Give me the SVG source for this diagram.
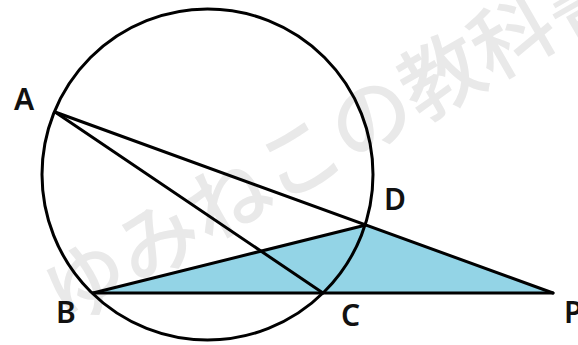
<svg xmlns="http://www.w3.org/2000/svg" width="578" height="345" viewBox="0 0 578 345">
  <style>
    .ln { stroke: #000; stroke-width: 3; fill: none; stroke-linecap: round; stroke-linejoin: round; }
    .lbl { font-family: "Noto Sans", "Liberation Sans", sans-serif; font-weight: 600; font-size: 30px; fill: #111; }
    .wm { font-family: "Noto Sans CJK JP", "Noto Sans", sans-serif; font-size: 82px; font-weight: 500; fill: #e9e9e9; }
  </style>
  <rect width="578" height="345" fill="#fff"/>
  <g id="watermark">
    <text class="wm" x="332" y="133" text-anchor="middle" dominant-baseline="central" transform="rotate(-30 332 133)">ゆみねこの教科書</text>
  </g>
  <g id="shaded">
    <polygon points="93,293 366,225 553,293" fill="#93d4e6"/>
  </g>
  <g id="circle">
    <circle class="ln" cx="207.5" cy="174.5" r="165.5"/>
  </g>
  <g id="connectors">
    <line class="ln" x1="55" y1="112" x2="553" y2="293"/>
    <line class="ln" x1="55" y1="112" x2="323" y2="293"/>
    <line class="ln" x1="93" y1="293" x2="366" y2="225"/>
    <line class="ln" x1="93" y1="293" x2="553" y2="293"/>
  </g>
  <g id="labels">
    <g id="A"><text class="lbl" x="14" y="110">A</text></g>
    <g id="B"><text class="lbl" x="56" y="323">B</text></g>
    <g id="C"><text class="lbl" x="341" y="326">C</text></g>
    <g id="D"><text class="lbl" x="384" y="210">D</text></g>
    <g id="P"><text class="lbl" x="564" y="323">P</text></g>
  </g>
</svg>
